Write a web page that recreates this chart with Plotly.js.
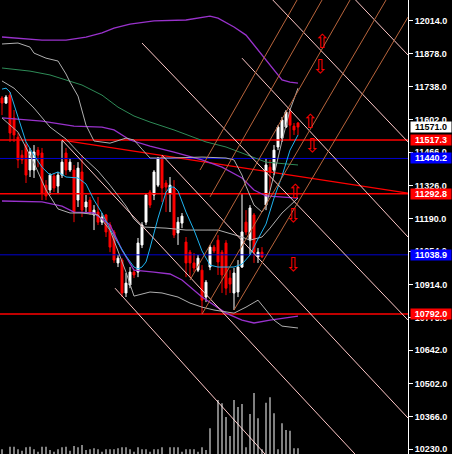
<!DOCTYPE html>
<html><head><meta charset="utf-8">
<script src="https://cdn.plot.ly/plotly-3.0.1.min.js"></script>
<style>html,body{margin:0;padding:0;background:#000;}#chart{width:452px;height:454px;}</style>
</head><body><div id="chart"></div>
<script>
// ---- candles (bar index 0..74) ----
const barIndex = [0,1,2,3,4,5,6,7,8,9,10,11,12,13,14,15,16,17,18,19,20,21,22,23,24,25,26,27,28,29,30,31,32,33,34,35,36,37,38,39,40,41,42,43,44,45,46,47,48,49,50,51,52,53,54,55,56,57,58,59,60,61,62,63,64,65,66,67,68,69,70,71,72,73,74];
const openP = [11692,11671,11704,11609,11529,11454,11496,11392,11392,11475,
 11463,11329,11309,11367,11325,11371,11463,11392,11392,11267,
 11384,11238,11267,11205,11217,11175,11205,11163,11134,11005,
 11017,10880,10913,10967,10967,11080,11175,11300,11288,11329,
 11446,11338,11296,11317,11130,11171,11092,11050,11005,10975,
 10975,10863,10988,11071,11100,11050,11088,10942,10880,10884,
 10988,11175,11100,11205,11030,11050,11246,11404,11392,11488,
 11525,11571,11634,11575,11588];
const highP = [11700,11704,11717,11642,11546,11475,11509,11484,11496,11488,
 11484,11350,11379,11379,11384,11517,11484,11442,11413,11425,
 11454,11288,11280,11246,11280,11213,11209,11175,11142,11038,
 11025,10963,10988,10975,11109,11175,11296,11309,11392,11446,
 11454,11350,11363,11350,11196,11213,11113,11059,11046,11038,
 10996,10934,11080,11080,11121,11059,11100,10975,10984,11017,
 11296,11225,11246,11213,11067,11071,11442,11434,11496,11579,
 11613,11642,11650,11588,11592];
const lowP = [11621,11667,11509,11509,11400,11417,11338,11363,11359,11404,
 11267,11267,11288,11300,11296,11359,11371,11384,11175,11238,
 11196,11217,11205,11142,11163,11163,11113,11050,11005,10988,
 10863,10863,10900,10942,10946,11067,11163,11234,11267,11321,
 11259,11217,11217,11109,11080,11150,10946,10946,10967,10967,
 10792,10842,10975,11046,10955,10880,10871,10880,10809,10863,
 10984,11121,11038,11005,11005,11025,11225,11309,11371,11475,
 11509,11567,11517,11538,11538];
const closeP = [11671,11696,11546,11538,11434,11434,11371,11467,11467,11454,
 11296,11284,11371,11317,11371,11425,11392,11425,11217,11400,
 11225,11259,11217,11225,11175,11196,11134,11071,11017,11025,
 10880,10921,10967,10955,11088,11163,11288,11246,11384,11442,
 11317,11321,11329,11121,11175,11200,11005,11005,10984,11025,
 10850,10925,11071,11055,11009,10955,10900,10917,10963,10988,
 11134,11134,11234,11050,11050,11030,11413,11384,11475,11571,
 11600,11634,11579,11559,11571];
const volume = [47,0,73,73,47,33,67,73,47,23,
 73,73,40,23,47,67,73,33,80,67,
 90,40,47,57,47,23,47,47,47,57,
 67,67,47,23,67,47,47,23,47,47,
 67,0,67,67,67,23,47,47,47,23,
 67,40,257,0,540,507,370,180,540,470,
 500,67,400,610,357,47,513,567,407,47,
 307,240,233,57,57];

// ---- indicator lines (sampled at bar indices) ----
const greenK = [0,7,12,20,25,29,33,37,43,51,56,60,63,66,74];
const greenP = [11817,11804,11788,11746,11704,11654,11617,11592,11559,11509,11488,11463,11446,11425,11413];
const purpleUpK = [0,10,16,21,25,28,32,38,46,50,52,54,58,61,63,65,67,69,70,72,74];
const purpleUpP = [11946,11933,11933,11946,11963,11983,12000,12013,12017,12029,12033,12025,11988,11954,11913,11871,11829,11788,11767,11758,11754];
const purpleMidK = [0,10,18,25,28,32,37,43,50,55,60,63,66,70,74];
const purpleMidP = [11609,11596,11575,11571,11559,11517,11492,11467,11434,11404,11359,11309,11284,11280,11275];
const purpleLowK = [0,10,15,18,23,27,30,33,38,42,45,50,56,60,63,67,74];
const purpleLowP = [11263,11259,11242,11217,11213,11163,11059,10975,10967,10959,10934,10863,10796,10767,10755,10767,10784];
const bandUpK = [0,4,7,8,11,14,16,17,19,21,23,27,31,33,35,37,42,50,56,58,60,61,63,65,66,68,70,72,74];
const bandUpP = [11917,11921,11904,11879,11858,11846,11792,11758,11700,11579,11513,11504,11525,11517,11479,11442,11442,11446,11442,11434,11371,11325,11246,11217,11242,11371,11513,11642,11733];
const bandMidK = [0,3,8,12,16,20,24,27,31,33,35,41,46,54,60,62,65,67,70,74];
const bandMidP = [11763,11733,11650,11571,11521,11450,11388,11329,11242,11188,11155,11150,11142,11142,11113,11100,11113,11150,11213,11275];
const bandLowK = [0,4,8,11,14,17,20,24,27,31,33,37,40,44,47,50,53,58,61,64,66,68,70,74];
const bandLowP = [11609,11550,11421,11309,11230,11213,11213,11205,11142,10967,10867,10884,10880,10863,10838,10821,10809,10796,10821,10850,10809,10767,10742,10734];
const cyanK = [0,1,2,4,6,8,10,12,14,16,19,21,23,25,27,29,31,33,34,35,36,37,39,41,42,43,44,46,48,50,52,54,58,60,62,64,66,68,70,72,74];
const cyanP = [11729,11733,11717,11613,11509,11454,11404,11371,11384,11363,11359,11334,11267,11213,11146,11088,11034,10988,10980,10988,11009,11067,11192,11300,11321,11321,11305,11217,11142,11055,10996,10988,10988,11000,11038,11105,11167,11275,11367,11475,11538];

// ---- horizontal levels ----
const redLevels = [11517.3, 11292.8, 10792.0];
const blueLevels = [11440.2, 11038.9];
// sloped red trendline
const redSlopeK = [15, 101.5];
const redSlopeP = [11517, 11296];

// ---- trend channels ----
const pinkStartK = [35, 60, 40, 82, 62, 15, 28.25];
const pinkStartP = [11921, 11858, 11454, 12212, 12200, 11517, 10900];
const pinkEndK   = [101.5, 101.5, 101.5, 101.5, 101.5, 88.25, 65.75];
const pinkEndP   = [10767, 11113, 10359, 11871, 11509, 10209, 10209];
const brownStartK = [49.5, 52, 47, 50, 58];
const brownStartP = [11392, 11280, 10934, 10792, 10809];
const brownEndK   = [73.75, 80, 87, 96, 101.5];
const brownEndP   = [12100, 12100, 12100, 12100, 12029];

// ---- arrows ----
const arrowK = [80, 79.5, 77, 77.5, 73.25, 72.75, 72.75];
const arrowP = [11921, 11817, 11588, 11488, 11296, 11196, 10992];
const arrowSym = ['⇧','⇩','⇧','⇩','⇧','⇩','⇩'];

// ---- axis labels ----
const tickVals = [12014,11878,11738,11602,11466,11326,11190,11054,10914,10778,10642,10502,10366,10230];
const tickText = tickVals.map(v => v.toFixed(1));
const boxVals = [11571.0, 11517.3, 11440.2, 11292.8, 11038.9, 10792.0];
const boxBg   = ['#ffffff','#ff0000','#0000ff','#ff0000','#0000ff','#ff0000'];
const boxFg   = ['#000000','#ffffff','#ffffff','#ffffff','#ffffff','#ffffff'];

const X0 = -0.5, X1 = 101.5;
const traces = [];
traces.push({type:'bar', x:barIndex, y:volume, yaxis:'y2', width:0.25,
  marker:{color:'#ffffff', line:{width:0}}, hoverinfo:'skip'});

function line(x, y, color, w) {
  traces.push({type:'scatter', mode:'lines', x:x, y:y, line:{color:color, width:w||1}, hoverinfo:'skip'});
}
redLevels.forEach(v => line([X0,X1],[v,v],'#ff0000',1.5));
blueLevels.forEach(v => line([X0,X1],[v,v],'#0000d0',1));
line(redSlopeK, redSlopeP, '#ff0000', 1.3);

traces.push({type:'candlestick', x:barIndex, open:openP, high:highP, low:lowP, close:closeP,
  increasing:{line:{color:'#ffffff', width:1}, fillcolor:'#ffffff'},
  decreasing:{line:{color:'#ff0000', width:1}, fillcolor:'#ff0000'},
  whiskerwidth:0, hoverinfo:'skip'});

line(greenK, greenP, '#2e8b57');
line(purpleUpK, purpleUpP, '#9932cc', 1.3);
line(purpleMidK, purpleMidP, '#9932cc', 1.3);
line(purpleLowK, purpleLowP, '#9932cc', 1.3);
line(bandUpK, bandUpP, '#b0b0b0');
line(bandMidK, bandMidP, '#b0b0b0');
line(bandLowK, bandLowP, '#b0b0b0');
line(cyanK, cyanP, '#1eb4f0', 1);
for (let i=0;i<pinkStartK.length;i++) line([pinkStartK[i],pinkEndK[i]],[pinkStartP[i],pinkEndP[i]],'#ffc8c8');
for (let i=0;i<brownStartK.length;i++) line([brownStartK[i],brownEndK[i]],[brownStartP[i],brownEndP[i]],'#b8643c');

traces.push({type:'scatter', mode:'text', x:arrowK, y:arrowP, text:arrowSym,
  textfont:{family:'DejaVu Sans', size:19, color:'#ff0000'}, hoverinfo:'skip'});

const annotations = boxVals.map((v,i) => ({
  xref:'paper', x:1, xanchor:'left', xshift:2, yref:'y', y:v, yanchor:'middle',
  text:v.toFixed(1), showarrow:false, bgcolor:boxBg[i], borderpad:0, width:40, height:10,
  font:{family:'Liberation Sans', size:9, color:boxFg[i], weight:'bold'}
}));

const layout = {
  width:452, height:454, margin:{l:0, r:44, t:0, b:0, pad:0},
  paper_bgcolor:'#000000', plot_bgcolor:'#000000', showlegend:false,
  xaxis:{range:[X0,X1], visible:false, rangeslider:{visible:false}, fixedrange:true},
  yaxis:{side:'right', range:[10209.3, 12100.2], tickvals:tickVals, ticktext:tickText,
    showgrid:false, zeroline:false, ticks:'outside', ticklen:4, tickcolor:'#ffffff',
    showline:true, linecolor:'#ffffff', linewidth:1, ticklabeloverflow:'allow',
    tickfont:{family:'Liberation Sans', size:9, color:'#ffffff', weight:'bold'}},
  yaxis2:{overlaying:'y', range:[0,4540], visible:false},
  annotations:annotations
};
Plotly.newPlot('chart', traces, layout, {staticPlot:true, displayModeBar:false});
</script></body></html>
